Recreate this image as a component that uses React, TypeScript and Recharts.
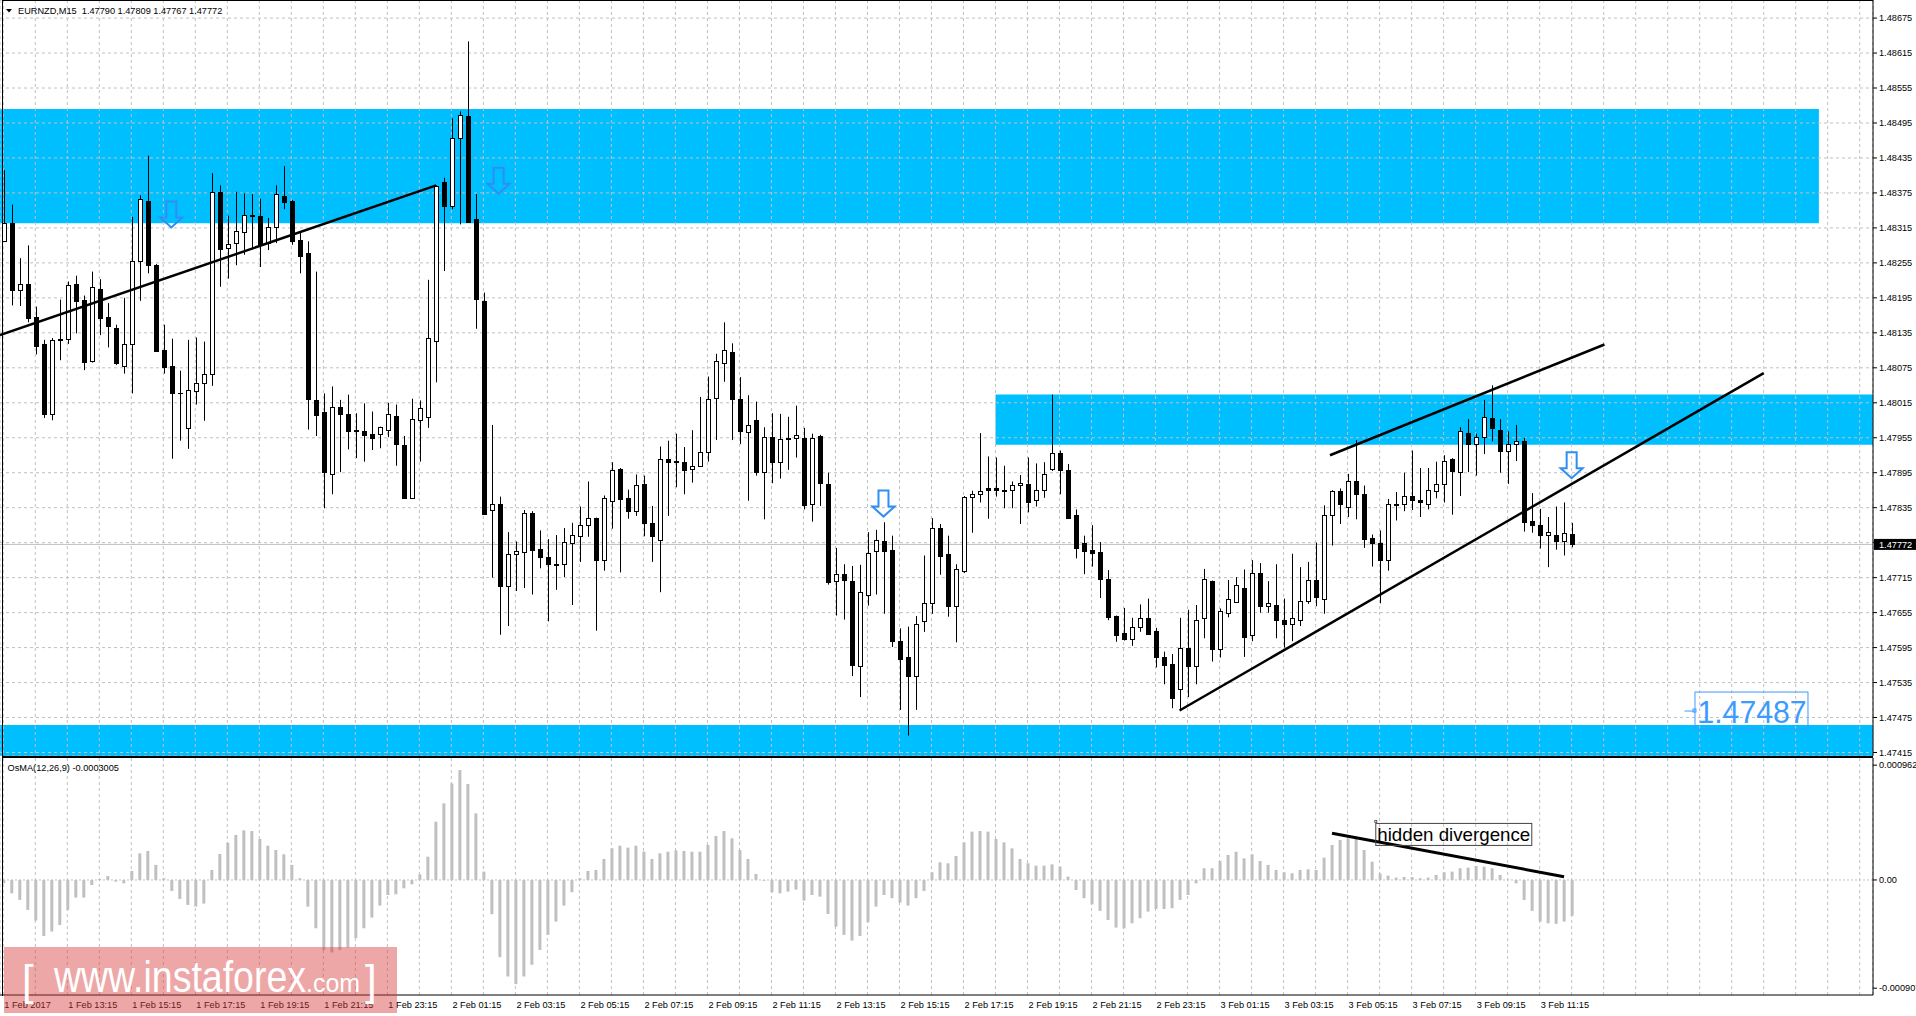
import React from 'react'
import {
  ComposedChart, Bar, XAxis, YAxis, CartesianGrid,
  ReferenceArea, ReferenceLine, ReferenceDot,
} from 'recharts'

const FONT = '"Liberation Sans", Arial, sans-serif'
const W = 1916
const PLOT_W = 1873
const AXIS_W = W - PLOT_W

// EURNZD M15 candles, prices in points (1e-5)
const open = [
  148292, 148324, 148208, 148219, 148162, 148115, 147995, 148124, 148124, 148219,
  148191, 148087, 148210, 148162, 148143, 148078, 148116, 148258, 148362, 148252,
  148105, 148078, 148032, 147972, 148035, 148049, 148065, 148377, 148280, 148289,
  148308, 148337, 148335, 148289, 148316, 148370, 148362, 148295, 148272, 148020,
  148000, 147893, 148008, 147996, 147968, 147966, 147961, 147962, 147969, 147993,
  147943, 147852, 147986, 147991, 148121, 148393, 148352, 148470, 148507, 148330,
  148190, 147831, 147841, 147701, 147755, 147759, 147826, 147764, 147750, 147738,
  147738, 147775, 147787, 147806, 147817, 147745, 147846, 147901, 147852, 147830,
  147876, 147809, 147779, 147918, 147915, 147914, 147901, 147907, 147930, 148024,
  148084, 148102, 148021, 147964, 147986, 147896, 147957, 147914, 147954, 147954,
  147954, 147841, 147958, 147876, 147709, 147722, 147710, 147563, 147686, 147760,
  147778, 147763, 147607, 147578, 147547, 147641, 147672, 147800, 147756, 147667,
  147727, 147854, 147859, 147868, 147868, 147866, 147866, 147874, 147876, 147848,
  147866, 147901, 147929, 147900, 147822, 147774, 147762, 147759, 147712, 147649,
  147620, 147609, 147630, 147645, 147623, 147578, 147566, 147524, 147594, 147563,
  147645, 147709, 147593, 147655, 147674, 147698, 147616, 147723, 147667, 147668,
  147643, 147636, 147642, 147675, 147711, 147679, 147822, 147864, 147837, 147880,
  147859, 147783, 147775, 147746, 147841, 147841, 147855, 147849, 147841, 147864,
  147876, 147918, 147896, 147963, 147944, 147956, 147989, 147969, 147933, 147945,
  147950, 147812, 147806, 147789, 147789, 147778, 147790,
]
const high = [
  148414, 148355, 148263, 148285, 148180, 148123, 148126, 148192, 148223, 148233,
  148199, 148240, 148227, 148186, 148149, 148195, 148334, 148371, 148439, 148253,
  148149, 148125, 148070, 148123, 148127, 148120, 148409, 148388, 148336, 148377,
  148374, 148373, 148365, 148332, 148388, 148421, 148363, 148308, 148292, 148240,
  148031, 148043, 148020, 148029, 147997, 148014, 148000, 147974, 148015, 148012,
  147958, 148022, 148019, 148226, 148388, 148401, 148503, 148515, 148635, 148373,
  148204, 147977, 147854, 147793, 147777, 147831, 147829, 147796, 147781, 147788,
  147800, 147809, 147837, 147880, 147818, 147856, 147913, 147903, 147866, 147892,
  147890, 147838, 147940, 147950, 147962, 147939, 147968, 148025, 148060, 148099,
  148153, 148117, 148059, 148028, 148017, 147973, 147997, 147996, 147991, 148010,
  147972, 147962, 147960, 147895, 147766, 147738, 147735, 147737, 147793, 147797,
  147810, 147787, 147628, 147631, 147649, 147753, 147817, 147807, 147787, 147738,
  147855, 147864, 147963, 147923, 147921, 147907, 147880, 147891, 147921, 147911,
  147913, 148029, 147933, 147910, 147832, 147787, 147805, 147776, 147728, 147650,
  147663, 147646, 147669, 147679, 147629, 147588, 147584, 147646, 147660, 147668,
  147730, 147710, 147662, 147711, 147716, 147729, 147745, 147740, 147709, 147738,
  147679, 147756, 147733, 147742, 147775, 147839, 147865, 147868, 147893, 147951,
  147873, 147789, 147796, 147850, 147862, 147895, 147933, 147903, 147903, 147914,
  147925, 147920, 147973, 147987, 147962, 148020, 148045, 147987, 147966, 147977,
  147955, 147860, 147833, 147819, 147837, 147844, 147809,
]
const low = [
  148292, 148182, 148181, 148153, 148098, 147989, 147985, 148088, 148116, 148134,
  148071, 148084, 148131, 148110, 148080, 148065, 148031, 148190, 148237, 148104,
  148065, 147919, 147950, 147936, 148012, 147984, 148044, 148214, 148228, 148251,
  148269, 148278, 148248, 148277, 148289, 148347, 148286, 148237, 147969, 147958,
  147834, 147858, 147896, 147935, 147920, 147914, 147934, 147937, 147956, 147907,
  147851, 147851, 147914, 147972, 148050, 148241, 148347, 148321, 148324, 148142,
  147824, 147715, 147617, 147632, 147692, 147697, 147686, 147731, 147640, 147694,
  147716, 147668, 147742, 147785, 147624, 147727, 147799, 147724, 147816, 147821,
  147786, 147742, 147690, 147821, 147870, 147858, 147878, 147905, 147914, 147951,
  148051, 147951, 147944, 147847, 147890, 147815, 147877, 147885, 147900, 147921,
  147832, 147811, 147838, 147703, 147650, 147643, 147546, 147510, 147667, 147686,
  147653, 147596, 147488, 147444, 147488, 147622, 147653, 147720, 147648, 147604,
  147723, 147792, 147844, 147816, 147854, 147834, 147834, 147807, 147827, 147837,
  147852, 147898, 147858, 147817, 147748, 147721, 147734, 147680, 147642, 147605,
  147607, 147598, 147622, 147618, 147561, 147532, 147491, 147487, 147510, 147532,
  147611, 147571, 147578, 147647, 147673, 147579, 147606, 147655, 147655, 147611,
  147595, 147606, 147632, 147670, 147666, 147653, 147770, 147807, 147819, 147815,
  147766, 147734, 147671, 147727, 147813, 147829, 147831, 147819, 147832, 147851,
  147844, 147823, 147855, 147896, 147890, 147927, 147949, 147895, 147876, 147915,
  147794, 147792, 147765, 147733, 147763, 147753, 147767,
]
const close = [
  148324, 148208, 148219, 148160, 148112, 147996, 148122, 148123, 148217, 148190,
  148085, 148213, 148160, 148146, 148083, 148116, 148259, 148364, 148252, 148104,
  148076, 148032, 148031, 148037, 148049, 148065, 148376, 148278, 148288, 148310,
  148338, 148335, 148286, 148316, 148373, 148360, 148292, 148267, 148021, 147994,
  147896, 148008, 147996, 147967, 147966, 147960, 147955, 147973, 147995, 147944,
  147852, 147988, 148006, 148126, 148387, 148352, 148470, 148508, 148325, 148193,
  147825, 147841, 147701, 147756, 147760, 147826, 147763, 147750, 147738, 147736,
  147776, 147788, 147805, 147817, 147746, 147851, 147899, 147850, 147830, 147874,
  147809, 147786, 147918, 147914, 147914, 147900, 147907, 147931, 148021, 148087,
  148105, 148021, 147967, 147977, 147896, 147957, 147914, 147953, 147953, 147959,
  147840, 147954, 147877, 147707, 147722, 147711, 147565, 147690, 147758, 147780,
  147761, 147606, 147576, 147547, 147636, 147672, 147800, 147752, 147667, 147730,
  147854, 147859, 147864, 147866, 147866, 147863, 147874, 147877, 147844, 147865,
  147892, 147929, 147900, 147818, 147765, 147761, 147758, 147712, 147648, 147617,
  147610, 147630, 147645, 147619, 147578, 147565, 147508, 147594, 147563, 147643,
  147713, 147593, 147657, 147678, 147703, 147614, 147723, 147667, 147672, 147642,
  147635, 147645, 147675, 147711, 147681, 147823, 147864, 147842, 147880, 147859,
  147781, 147775, 147746, 147841, 147840, 147855, 147849, 147844, 147865, 147876,
  147915, 147898, 147967, 147944, 147957, 147991, 147972, 147933, 147945, 147950,
  147811, 147806, 147789, 147793, 147778, 147791, 147772,
]

// OsMA(12,26,9) histogram, in 1e-6
const osma = [
  -28, -112, -167, -251, -340, -469, -432, -377, -251, -148,
  -148, -42, 8, 33, -14, -28, 75, 223, 243, 126,
  14, -92, -159, -209, -223, -198, 84, 218, 312, 377,
  416, 410, 343, 287, 251, 215, 126, 14, -223, -405,
  -586, -608, -586, -566, -488, -405, -315, -215, -126, -120,
  -70, -36, 47, 195, 488, 642, 809, 921, 804, 558,
  70, -287, -647, -809, -873, -809, -711, -586, -460, -349,
  -215, -103, 14, 75, 84, 176, 265, 287, 271, 287,
  237, 176, 223, 237, 248, 243, 237, 237, 293, 368,
  410, 349, 251, 176, 50, -6, -103, -112, -98, -81,
  -173, -126, -140, -285, -391, -460, -508, -469, -354, -223,
  -126, -153, -190, -215, -153, -92, 64, 148, 140, 201,
  315, 405, 410, 405, 343, 315, 265, 176, 140, 120,
  120, 131, 112, 28, -84, -153, -204, -259, -335, -399,
  -405, -363, -321, -265, -243, -243, -237, -167, -126, -28,
  98, 98, 159, 209, 237, 181, 215, 159, 126, 84,
  64, 56, 84, 89, 84, 187, 293, 335, 349, 349,
  251, 153, 56, 36, 20, 25, 25, 14, 20, 42,
  64, 70, 98, 103, 117, 112, 98, 42, 3, -28,
  -167, -259, -349, -363, -368, -349, -300.5,
]

const xLabels = [
  '1 Feb 2017', '1 Feb 13:15', '1 Feb 15:15', '1 Feb 17:15', '1 Feb 19:15', '1 Feb 21:15',
  '1 Feb 23:15', '2 Feb 01:15', '2 Feb 03:15', '2 Feb 05:15', '2 Feb 07:15', '2 Feb 09:15',
  '2 Feb 11:15', '2 Feb 13:15', '2 Feb 15:15', '2 Feb 17:15', '2 Feb 19:15', '2 Feb 21:15',
  '2 Feb 23:15', '3 Feb 01:15', '3 Feb 03:15', '3 Feb 05:15', '3 Feb 07:15', '3 Feb 09:15',
  '3 Feb 11:15',
]

const priceTicks = [
  1.47415, 1.47475, 1.47535, 1.47595, 1.47655, 1.47715, 1.47775, 1.47835, 1.47895, 1.47955,
  1.48015, 1.48075, 1.48135, 1.48195, 1.48255, 1.48315, 1.48375, 1.48435, 1.48495, 1.48555,
  1.48615, 1.48675,
]
const osmaTicks = [0.000962, 0, -0.000907]

// drawn objects (bar index, price)
const zones = [
  { x1: -0.41, x2: 226.9, y1: 1.48323, y2: 1.48519 },
  { x1: 124.0, x2: 233.66, y1: 1.47943, y2: 1.48029 },
  { x1: -0.41, x2: 233.66, y1: 1.47409, y2: 1.47462 },
]
const trendLines = [
  [[-0.41, 1.48131], [54.1, 1.48388]],
  [[165.8, 1.47925], [200.1, 1.48115]],
  [[147.0, 1.47487], [220.0, 1.48066]],
]
const arrows = [[21.0, 1.48338], [61.9, 1.48396], [110.0, 1.47842], [196.0, 1.47908]]
const levelTag = { x: 210.1, y: 1.47487, text: '1.47487' }
const divLine = [[166.05, 0.000391], [195.05, 0.0000277]]
const divNote = { x: 171.46, y: 0.000478, text: 'hidden divergence' }

const X_MIN = -0.41
const X_MAX = 233.66
const Y_MIN = 1.47409
const Y_MAX = 1.48706
const OSMA_MIN = -0.000964
const OSMA_MAX = 0.001022

const gridTicks = Array.from({ length: 59 }, (_, k) => k * 4)

const candles = open.map((o, i) => ({
  i, open: o / 1e5, high: high[i] / 1e5, low: low[i] / 1e5, close: close[i] / 1e5,
}))
const osmaData = osma.map((v, i) => ({ i, osma: v / 1e6 }))
const last = candles[candles.length - 1]

const axisTick = { fill: '#000', fontSize: 9.2, fontFamily: FONT }

function Candle(props: any) {
  const { x, y, width, height, payload } = props
  if (x == null || !payload) return null
  const { open: o, high: h, low: l, close: c } = payload
  const top = Math.min(y, y + height)
  const span = Math.abs(height)
  const ppu = h > l ? span / (h - l) : 0
  const cx = Math.round(x + width / 2)
  const bTop = Math.round(top + (h - Math.max(o, c)) * ppu)
  const bBot = Math.round(top + (h - Math.min(o, c)) * ppu)
  const bull = c >= o
  return (
    <g>
      <line x1={cx + 0.5} x2={cx + 0.5} y1={top} y2={top + span} stroke="#000" strokeWidth={1} />
      {bBot - bTop < 1 ? (
        <line x1={cx - 2} x2={cx + 3} y1={bTop + 0.5} y2={bTop + 0.5} stroke="#000" strokeWidth={1} />
      ) : (
        <rect x={cx - 1.5} y={bTop + 0.5} width={4} height={bBot - bTop} fill={bull ? '#fff' : '#000'} stroke="#000" strokeWidth={1} />
      )}
    </g>
  )
}

function DownArrow(props: any) {
  const { cx, cy } = props
  const d = `M${cx - 5},${cy - 13} L${cx + 5},${cy - 13} L${cx + 5},${cy + 3} L${cx + 11},${cy + 3} L${cx},${cy + 13} L${cx - 11},${cy + 3} L${cx - 5},${cy + 3} Z`
  return <path d={d} fill="none" stroke="#2e8ef5" strokeWidth={2} />
}

function LevelTag(props: any) {
  const { cx, cy } = props
  const col = '#3c9bff'
  return (
    <g>
      <line x1={cx} x2={cx + 10} y1={cy + 0.5} y2={cy + 0.5} stroke={col} />
      <rect x={cx + 8.5} y={cy - 1.5} width={3} height={3} fill="none" stroke={col} />
      <rect x={cx + 10.5} y={cy - 18.5} width={113} height={37} fill="none" stroke={col} />
      <text x={cx + 13} y={cy + 12} fill={col} fontSize={32} fontFamily={FONT}
        textLength={109} lengthAdjust="spacingAndGlyphs">{levelTag.text}</text>
    </g>
  )
}

function PriceTag(props: any) {
  const { cx, cy } = props
  return (
    <g>
      <rect x={cx + 1} y={cy - 5.5} width={43} height={11} fill="#000" />
      <text x={cx + 6} y={cy + 3.3} fill="#fff" fontSize={9.2} fontFamily={FONT}>{last.close.toFixed(5)}</text>
    </g>
  )
}

function NoteBox(props: any) {
  const { cx, cy } = props
  return (
    <g>
      <rect x={cx + 0.5} y={cy + 0.5} width={156} height={22} fill="none" stroke="#444" />
      <rect x={cx - 0.5} y={cy - 2.5} width={2} height={2} fill="none" stroke="#444" strokeWidth={0.8} />
      <text x={cx + 2} y={cy + 18} fill="#000" fontSize={19} fontFamily={FONT}
        textLength={153} lengthAdjust="spacingAndGlyphs">{divNote.text}</text>
    </g>
  )
}

function TimeTick(props: any) {
  const { x, y, payload } = props
  const v = payload?.value
  if (v == null || v % 8 !== 0 || !xLabels[v / 8]) return <g />
  return (
    <text x={x + 1} y={y + 12.6} fill="#000" fontSize={9.2} fontFamily={FONT} textAnchor="start">
      {xLabels[v / 8]}
    </text>
  )
}

export default function App() {
  const header = `EURNZD,M15  ${last.open.toFixed(5)} ${last.high.toFixed(5)} ${last.low.toFixed(5)} ${last.close.toFixed(5)}`
  const osmaLast = (osma[osma.length - 1] / 1e6).toFixed(7)
  return (
    <div style={{ position: 'absolute', left: 0, top: 0, width: W, height: 1016, background: '#fff', fontFamily: FONT }}>
      <div style={{ position: 'absolute', left: 0, top: 0 }}>
        <ComposedChart width={W} height={756} data={candles} margin={{ top: 0, right: 0, bottom: 0, left: 0 }}>
          {zones.map((z, k) => (
            <ReferenceArea key={k} x1={z.x1} x2={z.x2} y1={z.y1} y2={z.y2}
              fill="#00bfff" fillOpacity={1} stroke="none" ifOverflow="hidden" zIndex={-150} />
          ))}
          <CartesianGrid stroke="#c0c0c0" strokeDasharray="3 3" zIndex={-100} />
          <XAxis dataKey="i" type="number" domain={[X_MIN, X_MAX]} ticks={gridTicks}
            interval={0} allowDataOverflow hide />
          <YAxis orientation="right" width={AXIS_W} domain={[Y_MIN, Y_MAX]} ticks={priceTicks}
            interval={0} allowDataOverflow
            tickFormatter={(v: number) => (Math.abs(v - 1.47775) < 1e-7 ? '' : v.toFixed(5))}
            tick={axisTick} axisLine={{ stroke: '#000' }} tickLine={{ stroke: '#000' }}
            tickSize={4} tickMargin={2} />
          <ReferenceLine y={last.close} stroke="#c0c0c0" zIndex={-90} />
          <Bar dataKey={(d: any) => [d.low, d.high]} barSize={5} shape={Candle} isAnimationActive={false} />
          {trendLines.map((s, k) => (
            <ReferenceLine key={k} segment={[{ x: s[0][0], y: s[0][1] }, { x: s[1][0], y: s[1][1] }]}
              stroke="#000" strokeWidth={2.5} ifOverflow="visible" />
          ))}
          {arrows.map((a, k) => (
            <ReferenceDot key={k} x={a[0]} y={a[1]} r={1} shape={DownArrow} ifOverflow="visible" />
          ))}
          <ReferenceDot x={levelTag.x} y={levelTag.y} r={1} shape={LevelTag} ifOverflow="visible" />
          <ReferenceDot x={X_MAX} y={last.close} r={1} shape={PriceTag} ifOverflow="visible" />
        </ComposedChart>
      </div>
      <div style={{ position: 'absolute', left: 0, top: 758 }}>
        <ComposedChart width={W} height={258} data={osmaData} margin={{ top: 0, right: 0, bottom: 0, left: 0 }}>
          <CartesianGrid stroke="#c0c0c0" strokeDasharray="3 3" horizontal={false} />
          <XAxis dataKey="i" type="number" domain={[X_MIN, X_MAX]} ticks={gridTicks} interval={0}
            allowDataOverflow height={21} tick={(p: any) => <TimeTick {...p} />} tickLine={false}
            tickSize={0} tickMargin={0} axisLine={{ stroke: '#000' }} />
          <YAxis orientation="right" width={AXIS_W} domain={[OSMA_MIN, OSMA_MAX]} ticks={osmaTicks}
            interval={0} allowDataOverflow
            tickFormatter={(v: number) => (v === 0 ? '0.00' : v.toFixed(6))}
            tick={axisTick} axisLine={{ stroke: '#000' }} tickLine={{ stroke: '#000' }}
            tickSize={4} tickMargin={2} />
          <ReferenceLine y={0} stroke="#c0c0c0" strokeDasharray="2 2" />
          <Bar dataKey="osma" fill="#c0c0c0" barSize={3} isAnimationActive={false} />
          <ReferenceLine segment={[{ x: divLine[0][0], y: divLine[0][1] }, { x: divLine[1][0], y: divLine[1][1] }]}
            stroke="#000" strokeWidth={3} ifOverflow="visible" />
          <ReferenceDot x={divNote.x} y={divNote.y} r={1} shape={NoteBox} ifOverflow="visible" />
        </ComposedChart>
      </div>
      <svg width={W} height={1016} style={{ position: 'absolute', left: 0, top: 0, pointerEvents: 'none' }}>
        <rect x={2} y={0} width={1} height={996} fill="#000" />
        <rect x={2} y={0} width={PLOT_W - 2} height={1} fill="#000" />
        <rect x={2} y={756} width={PLOT_W - 2} height={2} fill="#000" />
        <polygon points="6,9 12,9 9,12.5" fill="#000" />
        <text x={18} y={14.3} fontSize={9.2} fontFamily={FONT} fill="#000" style={{ whiteSpace: 'pre' }}>{header}</text>
        <text x={7.6} y={771} fontSize={9.2} fontFamily={FONT} fill="#000">{`OsMA(12,26,9) ${osmaLast}`}</text>
        <g>
          <rect x={4} y={947} width={393} height={66} fill="rgba(215,60,60,0.45)" />
          <text x={22} y={995} fontSize={42} fontFamily={FONT} fill="#fff">[</text>
          <text x={54} y={992} fontSize={44} fontFamily={FONT} fill="#fff"
            textLength={252} lengthAdjust="spacingAndGlyphs">www.instaforex</text>
          <text x={306} y={992} fontSize={26} fontFamily={FONT} fill="#fff"
            textLength={54} lengthAdjust="spacingAndGlyphs">.com</text>
          <text x={365} y={995} fontSize={42} fontFamily={FONT} fill="#fff">]</text>
        </g>
      </svg>
    </div>
  )
}
